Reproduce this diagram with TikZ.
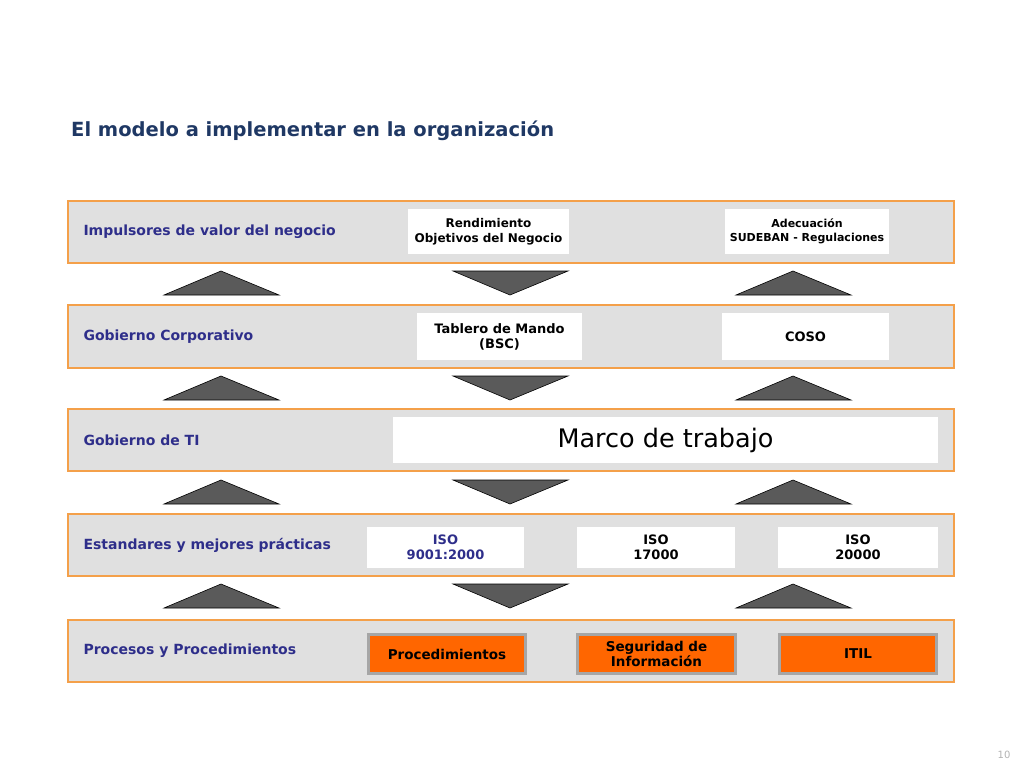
\documentclass[tikz,border=0pt]{standalone}
\usepackage{fontspec}
\setmainfont{DejaVu Sans}
\definecolor{bandgray}{HTML}{E0E0E0}
\definecolor{bandorange}{HTML}{F4A04A}
\definecolor{labelblue}{HTML}{2E2E8A}
\definecolor{titleblue}{HTML}{1F3864}
\definecolor{procorange}{HTML}{FF6600}
\definecolor{trigray}{HTML}{5A5A5A}
\tikzset{
  band/.style={draw=bandorange,line width=2pt,fill=bandgray},
  bandlabel/.style={anchor=west,text=labelblue,font=\bfseries\fontsize{14}{16}\selectfont},
  whitebox/.style={fill=white,align=center,font=\bfseries\fontsize{13}{15}\selectfont},
  procbox/.style={draw=gray!70,line width=3pt,fill=procorange,align=center,font=\bfseries\fontsize{13.5}{15}\selectfont},
  tri/.style={fill=trigray,draw=black,line width=0.6pt}
}
\begin{document}
\begin{tikzpicture}[x=1pt,y=-1pt]
\useasboundingbox (0,0) rectangle (1024,768);
\node[anchor=west,inner sep=0pt,text=titleblue,font=\bfseries\fontsize{19.5}{22}\selectfont] (title) at (71,131) {El modelo a implementar en la organización};
% bands
\foreach \t/\b/\lab [count=\i] in {201/263/Impulsores de valor del negocio,305/368/Gobierno Corporativo,409/471/Gobierno de TI,514/576/Estandares y mejores prácticas,620/682/Procesos y Procedimientos}{
  \draw[band] (68,\t) rectangle (954,\b);
  \node[bandlabel] (lab\i) at (80,{(\t+\b)/2}) {\lab};
}
% triangles
\foreach \y in {271,376,480,584}{
  \draw[tri] (164,\y+24) -- (221,\y) -- (279,\y+24) -- cycle;
  \draw[tri] (453,\y) -- (568,\y) -- (510,\y+24) -- cycle;
  \draw[tri] (736,\y+24) -- (793,\y) -- (851,\y+24) -- cycle;
}
% row 1
\node[whitebox,font=\bfseries\fontsize{12}{15}\selectfont,minimum width=161pt,minimum height=45pt] (rend) at (488.5,231.5) {Rendimiento\\Objetivos del Negocio};
\node[whitebox,font=\bfseries\fontsize{11}{14}\selectfont,minimum width=164pt,minimum height=45pt] (adec) at (807,231.5) {Adecuación\\SUDEBAN - Regulaciones};
% row 2
\node[whitebox,minimum width=165pt,minimum height=47pt] (bsc) at (499.5,336.5) {Tablero de Mando\\(BSC)};
\node[whitebox,minimum width=167pt,minimum height=47pt] (coso) at (805.5,336.5) {COSO};
% row 3
\node[fill=white,minimum width=545pt,minimum height=46pt,font=\fontsize{25.5}{28}\selectfont] (marco) at (665.5,440) {Marco de trabajo};
% row 4
\node[whitebox,text=labelblue,minimum width=157pt,minimum height=41pt] (iso9) at (445.5,547.5) {ISO\\9001:2000};
\node[whitebox,minimum width=158pt,minimum height=41pt] (iso17) at (656,547.5) {ISO\\17000};
\node[whitebox,minimum width=160pt,minimum height=41pt] (iso20) at (858,547.5) {ISO\\20000};
% row 5
\node[procbox,minimum width=157pt,minimum height=39pt] (proc) at (447,654) {Procedimientos};
\node[procbox,minimum width=158pt,minimum height=39pt] (segu) at (656.5,654) {Seguridad de\\Información};
\node[procbox,minimum width=157pt,minimum height=39pt] (itil) at (858,654) {ITIL};
\node[text=gray!60,font=\fontsize{10}{11}\selectfont] (pag) at (1004,755) {10};
\end{tikzpicture}
\end{document}
